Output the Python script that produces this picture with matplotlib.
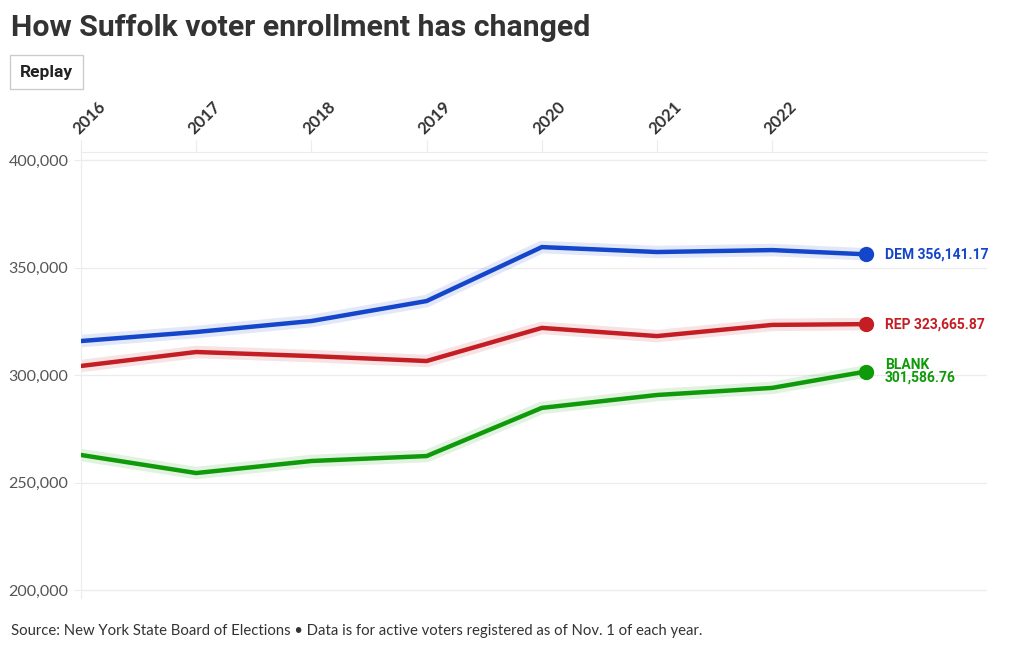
import matplotlib
matplotlib.use('Agg')
import matplotlib.pyplot as plt
from matplotlib.ticker import FuncFormatter
import numpy as np

# data
years = [2016, 2017, 2018, 2019, 2020, 2021, 2022, 2022.81]
year_labels = ['2016', '2017', '2018', '2019', '2020', '2021', '2022']
dem = [315800, 320000, 325100, 334400, 359500, 357200, 358100, 356141.17]
rep = [304200, 310700, 308800, 306500, 321900, 318100, 323300, 323665.87]
blank = [262800, 254400, 260000, 262300, 284700, 290700, 294000, 301586.76]

series = [
    ('DEM', dem, '#1446cc'),
    ('REP', rep, '#c41e24'),
    ('BLANK', blank, '#0f9a0a'),
]

plt.rc('font', family=['Lato', 'DejaVu Sans'])

fig = plt.figure(figsize=(10.2, 6.5), dpi=100)
ax = fig.add_axes([81/1020, 1-598/650, 906/1020, 446/650])

for name, vals, col in series:
    ax.plot(years, vals, color=col, lw=9, alpha=0.12, solid_capstyle='round', zorder=2)
    ax.plot(years, vals, color=col, lw=3.2, solid_joinstyle='miter', zorder=3)
    ax.plot(years[-1], vals[-1], 'o', color=col, ms=10, zorder=4)

# end labels
ax.annotate('DEM 356,141.17', (years[-1], dem[-1]), xytext=(14, 0), textcoords='offset points',
            color=series[0][2], fontsize=10, fontweight='bold', va='center', family='Roboto')
ax.annotate('REP 323,665.87', (years[-1], rep[-1]), xytext=(14, 0), textcoords='offset points',
            color=series[1][2], fontsize=10, fontweight='bold', va='center', family='Roboto')
ax.annotate('BLANK\n301,586.76', (years[-1], blank[-1]), xytext=(14, 0), textcoords='offset points',
            color=series[2][2], fontsize=10, fontweight='bold', va='center', family='Roboto',
            linespacing=0.85)

ax.set_xlim(2016, 2016 + 906/115.2)
ax.set_ylim(200000 - 8/2.15*1000, 400000 + 8/2.15*1000)
ax.set_yticks([200000, 250000, 300000, 350000, 400000])
ax.yaxis.set_major_formatter(FuncFormatter(lambda v, p: f'{int(v):,}'))
ax.set_xticks(years[:-1])
ax.set_xticklabels(year_labels)
ax.xaxis.tick_top()
ax.tick_params(axis='x', length=9, color='#ececec', pad=2, labelsize=12, labelcolor='#333333')
ax.tick_params(axis='y', length=5, color='#ececec', pad=4, labelsize=11.5, labelcolor='#555555')
for lab in ax.get_xticklabels():
    lab.set_rotation(45)
    lab.set_ha('left')
    lab.set_va('bottom')
    lab.set_rotation_mode('anchor')
    lab.set_fontweight('bold')
ax.grid(axis='y', color='#ececec', lw=1)
for s in ['right', 'bottom']:
    ax.spines[s].set_visible(False)
ax.spines['left'].set_color('#ececec')
ax.spines['top'].set_color('#ececec')

fig.text(11/1020, 1-28/650, 'How Suffolk voter enrollment has changed', fontsize=21.8,
         fontweight='bold', color='#333333', va='center', family='Roboto')
fig.text(20/1020, 1-72/650, 'Replay', fontsize=12.5, fontweight='bold', color='#222222',
         va='center', family='Roboto',
         bbox=dict(boxstyle='square,pad=0.55', fc='white', ec='#cccccc', lw=1))
fig.text(11/1020, 1-631/650,
         'Source: New York State Board of Elections \u2022 Data is for active voters registered as of Nov. 1 of each year.',
         fontsize=10.7, color='#333333', va='center')

fig.savefig('out.png', dpi=100)
